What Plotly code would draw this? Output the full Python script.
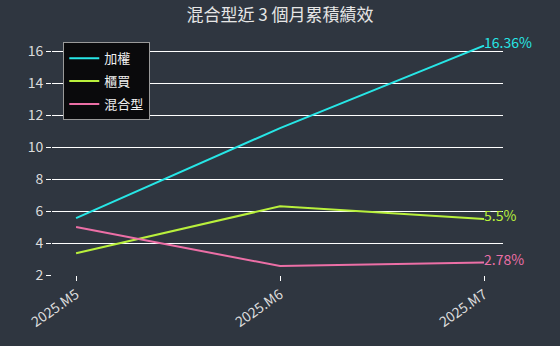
import plotly.graph_objects as go

months = ["2025.M5", "2025.M6", "2025.M7"]
taiex = [5.56, 11.2, 16.36]
otc = [3.36, 6.3, 5.5]
mixed = [5.0, 2.56, 2.78]
names = ["加權", "櫃買", "混合型"]
colors = ["#27e6e6", "#b9f03c", "#ec6fa6"]
end_labels = ["16.36%", "5.5%", "2.78%"]

fig = go.Figure()
for i, (name, vals, c) in enumerate(zip(names, [taiex, otc, mixed], colors)):
    fig.add_trace(go.Scatter(x=list(range(len(months))), y=vals, mode="lines", name=name,
                             legendgroup=f"g{i}", line=dict(color=c, width=2)))

for vals, c, lab in zip([taiex, otc, mixed], colors, end_labels):
    fig.add_annotation(x=len(months) - 1, y=vals[-1], text=lab, showarrow=False,
                       xanchor="left", yanchor="middle", yshift=4, xshift=-2,
                       font=dict(color=c, size=14))

fig.update_layout(
    width=560, height=346,
    paper_bgcolor="#2f3640", plot_bgcolor="#2f3640",
    margin=dict(l=52, r=57, t=45, b=71),
    font=dict(family="Noto Sans CJK TC, Noto Sans, sans-serif", color="#e6e6e6", size=14),
    title=dict(text="混合型近 3 個月累積績效", x=0.5, xanchor="center", y=0.975, yanchor="top",
               font=dict(size=17, color="#e6e6e6")),
    showlegend=True,
    legend=dict(x=0.025, y=1.012, xanchor="left", yanchor="top", bgcolor="#0a0a0c",
                bordercolor="#9a9a9a", borderwidth=1, font=dict(color="#f0f0f0", size=13),
                itemwidth=30, tracegroupgap=3),
    xaxis=dict(tickmode="array", tickvals=list(range(len(months))), ticktext=months,
               range=[-0.118, 2.093], showgrid=False, zeroline=False,
               ticks="outside", ticklen=5, tickcolor="#ffffff", tickangle=-35,
               showline=False, tickfont=dict(size=14, color="#dcdcdc")),
    yaxis=dict(range=[2, 16.4], tickvals=[2, 4, 6, 8, 10, 12, 14, 16], showgrid=True,
               gridcolor="#ffffff", gridwidth=1, zeroline=False,
               ticks="outside", ticklen=5, tickcolor="#ffffff",
               tickfont=dict(size=14, color="#dcdcdc")),
)

fig.write_html("out.html")
